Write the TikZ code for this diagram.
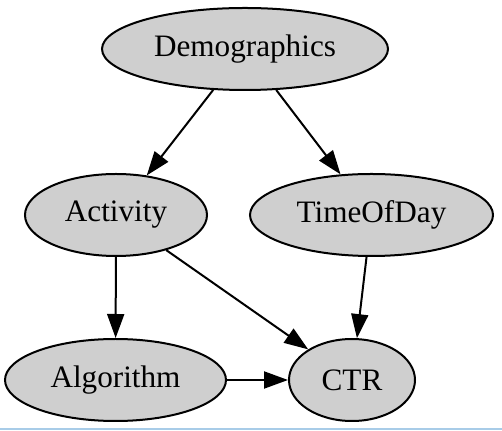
\documentclass[tikz,border=0pt]{standalone}
\usepackage{fontspec}
\setmainfont{Liberation Serif}
\usetikzlibrary{shapes.geometric, arrows.meta}
\definecolor{mygray}{RGB}{207, 207, 207}
\definecolor{myblue}{RGB}{168, 204, 232}
\tikzset{>={Triangle[length=12pt, width=8.5pt]}}
\tikzset{var/.style = {ellipse, draw, line width = 1pt, fill = mygray, inner sep = 0pt,
  minimum height = 41pt, font = \fontsize{15.6}{18}\selectfont}}

\begin{document}
\begin{tikzpicture}[x = 0.5pt, y = -0.5pt]
\useasboundingbox (0,0) rectangle (502,431);
\draw[myblue, line width = 1pt] (0,429.5) -- (502,429.5);
\node[var, minimum width = 143pt] (demo) at (245, 49) {Demographics};
\node[var, minimum width = 91pt] (act) at (116, 215) {Activity};
\node[var, minimum width = 121.5pt] (tod) at (371.5, 215) {TimeOfDay};
\node[var, minimum width = 110.5pt] (alg) at (115.5, 380) {Algorithm};
\node[var, minimum width = 63pt] (ctr) at (352, 380) {CTR};
\draw[->, line width = 1pt] (demo) -- (act);
\draw[->, line width = 1pt] (demo) -- (tod);
\draw[->, line width = 1pt] (act) -- (alg);
\draw[->, line width = 1pt] (act) -- (ctr);
\draw[->, line width = 1pt] (tod) -- (ctr);
\draw[->, line width = 1pt] (alg) -- (ctr);
\end{tikzpicture}
\end{document}
